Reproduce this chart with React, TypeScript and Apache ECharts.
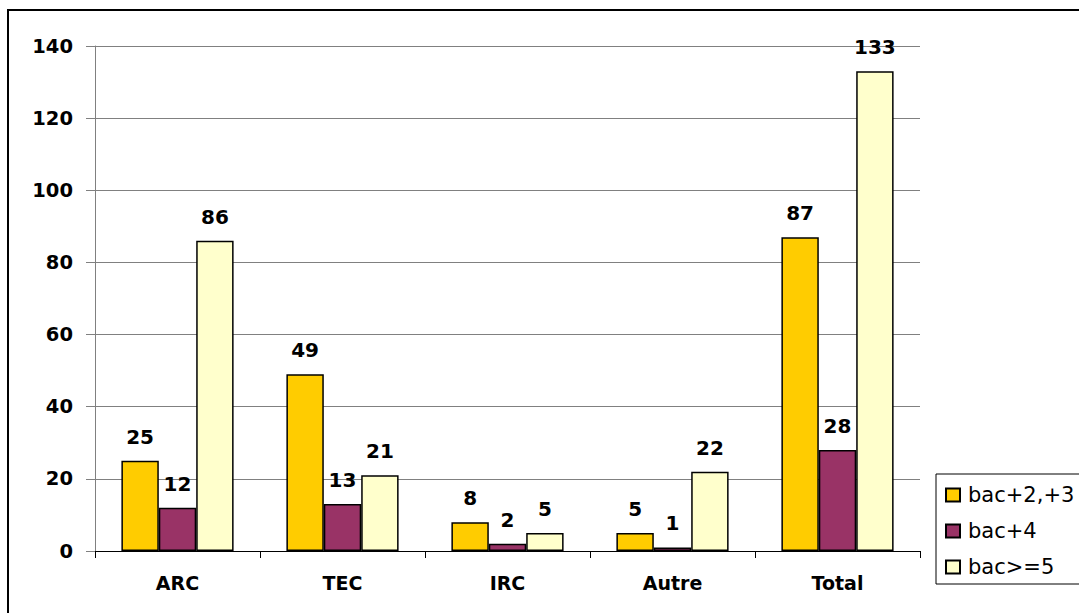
import React, { useEffect, useRef } from "react";
import * as echarts from "echarts";

const categories = ["ARC", "TEC", "IRC", "Autre", "Total"];
const seriesNames = ["bac+2,+3", "bac+4", "bac>=5"];
const bac23 = [25, 49, 8, 5, 87];
const bac4 = [12, 13, 2, 1, 28];
const bac5 = [86, 21, 5, 22, 133];
const colors = ["#FFCC00", "#993366", "#FFFFCC"];

const FONT = "DejaVu Sans";

export default function App() {
  const ref = useRef<HTMLDivElement>(null);

  useEffect(() => {
    if (!ref.current) return;
    const chart = echarts.init(ref.current, null, { renderer: "svg" });
    const values = [bac23, bac4, bac5];

    chart.setOption({
      animation: false,
      backgroundColor: "#ffffff",
      grid: { left: 95, top: 46, width: 825, height: 505 },
      xAxis: {
        type: "category",
        data: categories,
        axisLine: { lineStyle: { color: "#000", width: 1 } },
        axisTick: { show: true, length: 7, lineStyle: { color: "#000" } },
        axisLabel: {
          margin: 22,
          color: "#000",
          fontFamily: FONT,
          fontWeight: "bold",
          fontSize: 19,
        },
      },
      yAxis: {
        type: "value",
        min: 0,
        max: 140,
        interval: 20,
        axisLine: { show: true, lineStyle: { color: "#808080", width: 1 } },
        axisTick: { show: true, length: 9, lineStyle: { color: "#808080" } },
        splitLine: { lineStyle: { color: "#808080", width: 1 } },
        axisLabel: {
          margin: 22,
          color: "#000",
          fontFamily: FONT,
          fontWeight: "bold",
          fontSize: 19.5,
        },
      },
      legend: {
        orient: "vertical",
        left: 940,
        top: 478,
        itemWidth: 14,
        itemHeight: 13,
        itemGap: 12,
        icon: "rect",
        data: seriesNames,
        textStyle: {
          color: "#000",
          fontFamily: FONT,
          fontSize: 21,
          lineHeight: 24,
          padding: [0, 0, 0, 3],
        },
      },
      graphic: [
        {
          type: "rect",
          shape: { x: 8, y: 10, width: 1120, height: 640 },
          style: { fill: "none", stroke: "#000", lineWidth: 2 },
          silent: true,
          z: 0,
        },
        {
          type: "rect",
          shape: { x: 936, y: 474, width: 200, height: 110 },
          style: { fill: "none", stroke: "#000", lineWidth: 1 },
          silent: true,
          z: 0,
        },
      ],
      series: seriesNames.map((name, i) => ({
        name,
        type: "bar",
        data: values[i],
        barGap: "0%",
        barCategoryGap: "32%",
        itemStyle: { color: colors[i], borderColor: "#000", borderWidth: 1.5 },
        label: {
          show: true,
          position: "top",
          distance: 14,
          color: "#000",
          fontFamily: FONT,
          fontWeight: "bold",
          fontSize: 20,
        },
      })),
    });

    return () => chart.dispose();
  }, []);

  return (
    <div
      ref={ref}
      style={{ position: "absolute", left: 0, top: 0, width: 1079, height: 613 }}
    />
  );
}
